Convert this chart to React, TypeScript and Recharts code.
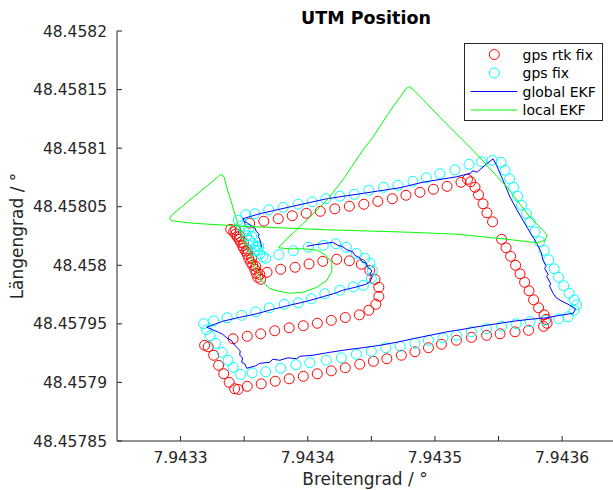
import React from 'react';
import { ScatterChart, Scatter, XAxis, YAxis } from 'recharts';

// ---- axis ticks ----
const xTicks = [7.9433, 7.94335, 7.9434, 7.94345, 7.9435, 7.94355, 7.9436];
const xTickLabels = ['7.9433', '', '7.9434', '', '7.9435', '', '7.9436'];
const yTicks = [48.45785, 48.4579, 48.45795, 48.458, 48.45805, 48.4581, 48.45815, 48.4582];
const yTickLabels = ['48.45785', '48.4579', '48.45795', '48.458', '48.45805', '48.4581', '48.45815', '48.4582'];

// ---- series (Breitengrad, Längengrad) ----
const gpsRtkFix: [number, number][] = [
  [7.9433606, 48.4579898], [7.9433594, 48.4579932], [7.9433583, 48.4579966], [7.9433567, 48.458],
  [7.9433551, 48.4580026], [7.9433535, 48.458006], [7.9433524, 48.4580094], [7.9433512, 48.458012],
  [7.9433496, 48.4580145], [7.9433488, 48.4580166], [7.9433472, 48.4580196], [7.9433461, 48.4580222],
  [7.9433445, 48.4580243], [7.9433433, 48.4580265], [7.9433417, 48.4580286], [7.9433394, 48.4580307],
  [7.9433433, 48.4580303], [7.9433465, 48.4580248], [7.9433496, 48.4580188], [7.9433528, 48.4580128],
  [7.9433559, 48.458006], [7.9433591, 48.4579991], [7.9433622, 48.4579923], [7.943363, 48.457988],
  [7.9433543, 48.4580359], [7.9433654, 48.4580376], [7.9433768, 48.4580397], [7.9433878, 48.4580423],
  [7.9433988, 48.4580444], [7.9434098, 48.4580461], [7.9434213, 48.4580482], [7.9434327, 48.4580504],
  [7.9434441, 48.4580521], [7.9434551, 48.4580546], [7.9434665, 48.4580568], [7.9434772, 48.4580598],
  [7.9434882, 48.4580623], [7.9434988, 48.4580649], [7.9435095, 48.4580674], [7.9435205, 48.4580709],
  [7.9435256, 48.4580734], [7.943528, 48.4580713],
  [7.9435315, 48.4580666], [7.9435343, 48.4580602], [7.9435378, 48.4580525], [7.9435409, 48.4580448],
  [7.9435453, 48.4580371], [7.9435524, 48.4580222], [7.9435559, 48.4580149], [7.9435595, 48.4580077],
  [7.9435634, 48.458], [7.9435669, 48.4579927], [7.9435705, 48.4579855], [7.943574, 48.4579782],
  [7.9435776, 48.4579705], [7.9435815, 48.4579637], [7.9435858, 48.4579577], [7.9435874, 48.4579539],
  [7.9435882, 48.4579505], [7.9435854, 48.4579479],
  [7.9435736, 48.4579445], [7.943563, 48.4579432], [7.9435512, 48.4579415], [7.9435406, 48.4579402],
  [7.9435287, 48.4579385], [7.9435169, 48.457936], [7.9435051, 48.4579326], [7.9434949, 48.4579296],
  [7.9434843, 48.4579262], [7.9434736, 48.4579232], [7.9434622, 48.4579202], [7.9434516, 48.457918],
  [7.9434409, 48.4579155], [7.9434295, 48.4579125], [7.9434185, 48.4579099], [7.9434075, 48.4579074],
  [7.9433965, 48.4579052], [7.9433854, 48.4579031], [7.9433744, 48.457901], [7.9433634, 48.4578988],
  [7.9433524, 48.4578967], [7.9433453, 48.4578941], [7.9433425, 48.4578946],
  [7.9433382, 48.4579001], [7.9433339, 48.4579074], [7.9433299, 48.4579146], [7.943326, 48.4579232],
  [7.9433217, 48.4579304], [7.9433189, 48.4579317],
  [7.9433413, 48.4579373], [7.9433524, 48.4579394], [7.943363, 48.4579415], [7.943374, 48.4579441],
  [7.9433854, 48.4579466], [7.9433965, 48.4579484], [7.9434075, 48.4579505], [7.9434185, 48.457953],
  [7.9434295, 48.4579554], [7.9434406, 48.4579577], [7.943448, 48.4579616], [7.9434535, 48.4579667],
  [7.9434559, 48.4579735], [7.9434559, 48.4579812], [7.9434528, 48.457988], [7.9434488, 48.4579957],
  [7.9434421, 48.4580009], [7.9434327, 48.4580038], [7.9434228, 48.4580051], [7.9434118, 48.4580034],
  [7.943401, 48.4580011], [7.94339, 48.4579983], [7.9433787, 48.4579966], [7.943368, 48.457994],
];

const gpsFix: [number, number][] = [
  [7.9433669, 48.458006], [7.9433646, 48.4580073], [7.9433622, 48.4580098], [7.9433606, 48.4580128],
  [7.9433591, 48.4580158], [7.9433567, 48.4580184], [7.9433543, 48.4580213], [7.943352, 48.4580252],
  [7.94335, 48.4580295], [7.9433476, 48.4580337], [7.9433453, 48.4580384], [7.9433535, 48.4580307],
  [7.9433559, 48.4580248], [7.9433583, 48.4580128], [7.9433614, 48.4580162], [7.9433512, 48.4580431],
  [7.9433583, 48.458044],
  [7.9433693, 48.4580474], [7.9433807, 48.4580495], [7.9433925, 48.4580521], [7.9434035, 48.4580542],
  [7.9434142, 48.4580568], [7.9434252, 48.4580589], [7.9434366, 48.4580606], [7.943448, 48.458064],
  [7.9434595, 48.4580666], [7.9434709, 48.4580683], [7.9434827, 48.4580717], [7.9434933, 48.4580747],
  [7.9435039, 48.4580781], [7.9435158, 48.4580815], [7.9435268, 48.4580862], [7.9435366, 48.4580884],
  [7.9435449, 48.4580896], [7.943552, 48.4580879],
  [7.9435551, 48.4580811], [7.9435587, 48.4580738], [7.9435618, 48.4580666], [7.943565, 48.4580589],
  [7.9435681, 48.4580512], [7.943572, 48.458044], [7.9435748, 48.4580371], [7.9435787, 48.4580286],
  [7.9435823, 48.4580201], [7.9435858, 48.4580128], [7.9435894, 48.4580047], [7.9435937, 48.457997],
  [7.9435972, 48.4579898], [7.9436012, 48.4579825], [7.9436055, 48.4579761], [7.9436095, 48.4579705],
  [7.9436114, 48.4579663], [7.9436095, 48.4579616], [7.9436047, 48.457956], [7.9435972, 48.4579543],
  [7.9435866, 48.457953], [7.9435748, 48.4579518], [7.9435638, 48.4579501], [7.9435524, 48.4579479],
  [7.9435406, 48.4579458], [7.9435287, 48.4579432], [7.9435169, 48.4579402], [7.9435063, 48.4579381],
  [7.9434949, 48.457936], [7.9434843, 48.4579334], [7.9434728, 48.4579308], [7.9434614, 48.4579296],
  [7.94345, 48.4579266], [7.9434382, 48.457924], [7.9434264, 48.457921], [7.9434146, 48.4579189],
  [7.9434016, 48.4579168], [7.9433906, 48.4579151], [7.9433787, 48.4579121], [7.9433669, 48.4579091],
  [7.9433563, 48.4579082], [7.9433472, 48.4579069],
  [7.9433413, 48.4579129], [7.9433374, 48.4579189], [7.9433327, 48.4579257], [7.9433276, 48.4579334],
  [7.9433232, 48.4579398], [7.9433205, 48.4579449], [7.9433181, 48.4579501],
  [7.943326, 48.4579526], [7.9433366, 48.4579552], [7.943348, 48.4579573], [7.9433591, 48.4579603],
  [7.9433697, 48.4579637], [7.9433815, 48.4579667], [7.9433925, 48.457968], [7.9434028, 48.4579714],
  [7.9434134, 48.4579757], [7.9434252, 48.4579787], [7.9434358, 48.4579816], [7.9434437, 48.4579829],
  [7.94345, 48.4579889], [7.9434508, 48.4579957], [7.9434488, 48.4580017], [7.9434449, 48.458006],
  [7.9434382, 48.4580102], [7.9434303, 48.4580154], [7.943422, 48.4580184], [7.9434122, 48.4580171],
  [7.9434004, 48.4580154], [7.9433886, 48.4580124], [7.9433772, 48.458009],
];

const globalEkf: [number, number][] = [
  [7.9433638, 48.4580154], [7.943363, 48.4580188], [7.9433622, 48.4580222], [7.943361, 48.4580248],
  [7.9433618, 48.4580265], [7.9433594, 48.458029], [7.9433587, 48.4580316], [7.9433555, 48.4580337],
  [7.9433528, 48.4580359], [7.9433504, 48.4580371], [7.9433488, 48.4580397],
  [7.9433622, 48.458044], [7.9433882, 48.4580504], [7.943415, 48.4580568], [7.9434409, 48.458061],
  [7.9434724, 48.4580662], [7.9434906, 48.4580709], [7.9435173, 48.4580756], [7.9435276, 48.4580785],
  [7.9435299, 48.4580807], [7.9435331, 48.4580794], [7.9435394, 48.4580854], [7.9435457, 48.4580909],
  [7.9435484, 48.4580854], [7.9435535, 48.4580726], [7.9435591, 48.4580581], [7.9435646, 48.458047],
  [7.9435724, 48.4580324], [7.9435803, 48.4580184], [7.9435835, 48.4580111], [7.943585, 48.4580043],
  [7.9435874, 48.4579991], [7.9435862, 48.4579974], [7.943589, 48.4579923], [7.9435878, 48.4579906],
  [7.9435909, 48.4579846], [7.9435902, 48.4579821], [7.9435929, 48.4579761], [7.9435953, 48.4579723],
  [7.9435992, 48.4579697], [7.9436047, 48.4579667], [7.9436106, 48.4579629], [7.9436087, 48.457959],
  [7.9435984, 48.4579573], [7.9435878, 48.4579552],
  [7.9435748, 48.4579539], [7.9435614, 48.4579522], [7.9435488, 48.4579501], [7.9435354, 48.4579479],
  [7.9435221, 48.4579454], [7.9435095, 48.4579432], [7.9434961, 48.4579402], [7.9434827, 48.4579373],
  [7.9434701, 48.4579343], [7.9434567, 48.4579317], [7.9434433, 48.4579296], [7.9434307, 48.4579279],
  [7.9434173, 48.4579257], [7.9434039, 48.4579232], [7.9433937, 48.4579223], [7.9433913, 48.4579202],
  [7.9433843, 48.457921], [7.943378, 48.4579189], [7.9433724, 48.4579198], [7.9433701, 48.4579172],
  [7.9433622, 48.4579163], [7.9433591, 48.4579142], [7.943352, 48.4579121],
  [7.9433504, 48.4579159], [7.943348, 48.4579172], [7.9433488, 48.457921], [7.9433465, 48.4579232],
  [7.9433469, 48.457927], [7.9433445, 48.4579296], [7.9433417, 48.457933], [7.9433398, 48.457936],
  [7.9433366, 48.4579377], [7.9433331, 48.4579411], [7.9433299, 48.4579428], [7.9433205, 48.4579471],
  [7.9433331, 48.4579522], [7.9433465, 48.4579556], [7.9433598, 48.4579586], [7.9433724, 48.4579624],
  [7.9433858, 48.4579659], [7.9433992, 48.4579693], [7.9434118, 48.4579731], [7.9434213, 48.4579761],
  [7.9434276, 48.4579787], [7.9434386, 48.4579816], [7.9434457, 48.4579838], [7.9434488, 48.4579859],
  [7.9434508, 48.4579906], [7.9434488, 48.4579923], [7.9434504, 48.4579953], [7.9434472, 48.4579983],
  [7.9434461, 48.4580017], [7.9434425, 48.4580034], [7.9434409, 48.4580064], [7.943437, 48.4580085],
  [7.9434354, 48.4580115], [7.9434307, 48.4580132], [7.9434276, 48.4580158], [7.9434236, 48.4580171],
  [7.9434197, 48.4580196], [7.9434118, 48.4580184], [7.9434055, 48.4580175], [7.9433992, 48.4580162],
];

const localEkf: [number, number][] = [
  [7.9432913, 48.4580401], [7.9432937, 48.4580435], [7.9433299, 48.458076], [7.9433323, 48.4580777],
  [7.9433343, 48.4580751], [7.9433362, 48.4580666], [7.9433402, 48.4580529], [7.9433441, 48.4580384],
  [7.9433488, 48.4580239], [7.9433543, 48.4580102], [7.9433598, 48.4579957], [7.9433646, 48.4579855],
  [7.9433701, 48.4579804], [7.9433772, 48.4579778], [7.9433858, 48.4579761], [7.9433961, 48.457977],
  [7.9434071, 48.4579812], [7.943415, 48.4579872], [7.9434189, 48.4579949], [7.9434189, 48.4580026],
  [7.9434142, 48.4580085], [7.9434079, 48.4580128], [7.9433961, 48.4580141], [7.9433858, 48.4580141],
  [7.9433772, 48.4580149], [7.943378, 48.4580166], [7.9433882, 48.4580273], [7.9434016, 48.458041],
  [7.943415, 48.4580555], [7.9434291, 48.4580751], [7.9434347, 48.4580845], [7.9434433, 48.4580982],
  [7.9434512, 48.4581093], [7.9434646, 48.4581315], [7.9434724, 48.4581434], [7.9434772, 48.4581507],
  [7.9434795, 48.4581524], [7.9434827, 48.4581503], [7.9435039, 48.4581264], [7.9435299, 48.4580982],
  [7.9435567, 48.4580666], [7.9435748, 48.458041], [7.943585, 48.4580299], [7.9435882, 48.4580256],
  [7.9435866, 48.4580213], [7.9435803, 48.4580192], [7.9435535, 48.4580226], [7.9435173, 48.4580265],
  [7.9434803, 48.4580282], [7.943415, 48.4580303], [7.9433488, 48.4580333], [7.9433095, 48.4580359],
  [7.9432929, 48.458038], [7.9432913, 48.4580401],
];

const toPoints = (arr: [number, number][]) => arr.map(([x, y]) => ({ x, y }));

const FONT = "'DejaVu Sans', sans-serif";
const AXIS = '#262626';

const XTick = (props: any) => {
  const { x, y, payload } = props;
  const i = xTicks.findIndex((t) => Math.abs(t - payload.value) < 1e-9);
  const label = i >= 0 ? xTickLabels[i] : '';
  return (
    <g>
      <line x1={x} x2={x} y1={y} y2={y - 5} stroke={AXIS} strokeWidth={1} />
      {label ? (
        <text x={x} y={y + 21.5} textAnchor="middle" fontFamily={FONT} fontSize={15.5} fill={AXIS}>
          {label}
        </text>
      ) : null}
    </g>
  );
};

const YTick = (props: any) => {
  const { x, y, payload } = props;
  const i = yTicks.findIndex((t) => Math.abs(t - payload.value) < 1e-9);
  const label = i >= 0 ? yTickLabels[i] : '';
  return (
    <g>
      <line x1={x} x2={x + 5} y1={y} y2={y} stroke={AXIS} strokeWidth={1} />
      <text x={x - 10} y={y + 5.5} textAnchor="end" fontFamily={FONT} fontSize={15.5} fill={AXIS}>
        {label}
      </text>
    </g>
  );
};

const ring = (color: string) => (p: any) => (
  <circle cx={p.cx} cy={p.cy} r={5} fill="none" stroke={color} strokeWidth={1} />
);
const noDot = () => <g />;

export default function App() {
  return (
    <div style={{ position: 'absolute', left: 0, top: 0, width: 613, height: 490, background: '#fff', overflow: 'hidden' }}>
      <ScatterChart width={613} height={490} margin={{ top: 31, right: 0, bottom: 0, left: 0 }}>
        <XAxis
          type="number"
          dataKey="x"
          domain={[7.94325, 7.94364]}
          allowDataOverflow
          ticks={xTicks}
          interval={0}
          tick={XTick}
          tickLine={false}
          tickSize={0}
          tickMargin={0}
          axisLine={{ stroke: AXIS }}
          height={49}
        />
        <YAxis
          type="number"
          dataKey="y"
          domain={[48.45785, 48.4582]}
          allowDataOverflow
          ticks={yTicks}
          interval={0}
          tick={YTick}
          tickLine={false}
          tickSize={0}
          tickMargin={0}
          axisLine={{ stroke: AXIS }}
          width={117}
        />
        <Scatter name="gps rtk fix" data={toPoints(gpsRtkFix)} fill="#ff0000" shape={ring('#ff0000')} isAnimationActive={false} />
        <Scatter name="gps fix" data={toPoints(gpsFix)} fill="#00ffff" shape={ring('#00ffff')} isAnimationActive={false} />
        <Scatter
          name="global EKF"
          data={toPoints(globalEkf)}
          fill="#0000ff"
          line={{ stroke: '#0000ff', strokeWidth: 1 }}
          shape={noDot}
          isAnimationActive={false}
        />
        <Scatter
          name="local EKF"
          data={toPoints(localEkf)}
          fill="#00ff00"
          line={{ stroke: '#00ff00', strokeWidth: 1 }}
          shape={noDot}
          isAnimationActive={false}
        />
      </ScatterChart>
      <svg width={613} height={490} style={{ position: 'absolute', left: 0, top: 0, pointerEvents: 'none' }}>
        <text x={366} y={23.5} textAnchor="middle" fontFamily={FONT} fontSize={17.5} fontWeight="bold" fill="#000">
          UTM Position
        </text>
        <text x={365} y={484.5} textAnchor="middle" fontFamily={FONT} fontSize={17} fill={AXIS}>
          Breitengrad / °
        </text>
        <text x={23} y={236} textAnchor="middle" fontFamily={FONT} fontSize={17} fill={AXIS} transform="rotate(-90 23 236)">
          Längengrad / °
        </text>
        <rect x={464.5} y={43.5} width={138} height={77} fill="#fff" stroke={AXIS} strokeWidth={1} />
        <circle cx={494.3} cy={54.5} r={5} fill="none" stroke="#ff0000" />
        <text x={522.5} y={59.5} fontFamily={FONT} fontSize={14} fill="#000">gps rtk fix</text>
        <circle cx={494.3} cy={73} r={5} fill="none" stroke="#00ffff" />
        <text x={522.5} y={78} fontFamily={FONT} fontSize={14} fill="#000">gps fix</text>
        <line x1={470.7} x2={517.3} y1={91.5} y2={91.5} stroke="#0000ff" strokeWidth={1} />
        <text x={522.5} y={96.5} fontFamily={FONT} fontSize={14} fill="#000">global EKF</text>
        <line x1={470.7} x2={517.3} y1={110} y2={110} stroke="#00ff00" strokeWidth={1} />
        <text x={522.5} y={115} fontFamily={FONT} fontSize={14} fill="#000">local EKF</text>
      </svg>
    </div>
  );
}
